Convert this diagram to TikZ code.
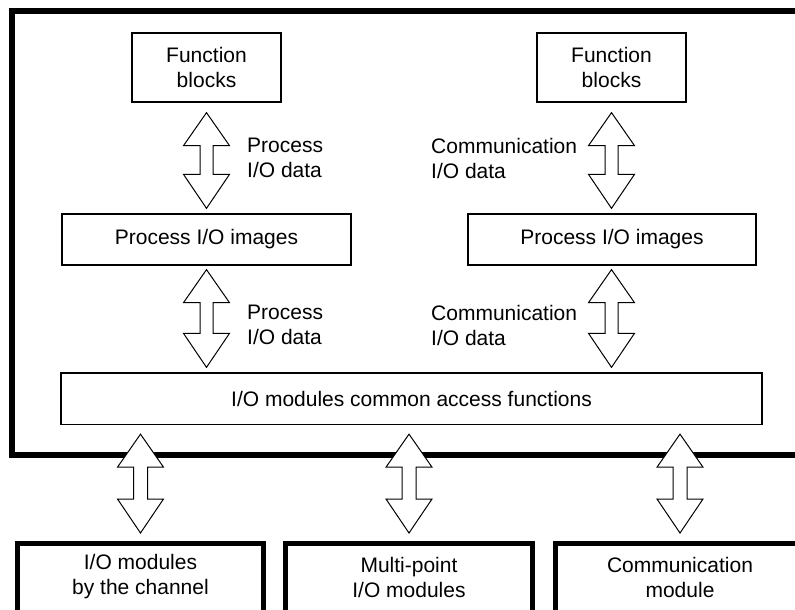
\documentclass[tikz,border=0pt]{standalone}
\usepackage{fontspec}
\setmainfont{Liberation Sans}
\usetikzlibrary{calc}
\tikzset{
  fnt/.style={font=\fontsize{21}{25}\selectfont},
  box/.style={draw=black, line width=1.3pt, rectangle, inner sep=0pt, align=center, fnt},
  bigbox/.style={draw=black, line width=5pt, rectangle, inner sep=0pt},
  lbl/.style={anchor=west, align=left, inner sep=0pt, fnt},
  txt/.style={align=center, inner sep=0pt, fnt},
  barrow/.style={draw=black, fill=white, line width=1pt, line join=miter},
}
\newcommand\blockarrow[3]{%
  \draw[barrow] let \p1=(#1), \p2=(#2) in
    (\x1,\y1) -- (\x1+23pt,\y1-33pt) -- (\x1+#3,\y1-33pt) -- (\x1+#3,\y2+34pt)
    -- (\x1+23pt,\y2+34pt) -- (\x1,\y2) -- (\x1-23pt,\y2+34pt) -- (\x1-#3,\y2+34pt)
    -- (\x1-#3,\y1-33pt) -- (\x1-23pt,\y1-33pt) -- cycle;}
\begin{document}
\begin{tikzpicture}[x=1pt,y=-1pt]
\useasboundingbox (0,0) rectangle (795,610);
\clip (0,0) rectangle (795,610);
\fill[white] (0,0) rectangle (795,610);
% outer frame
\draw[line width=6pt] (11.5,11.5) rectangle (830,455);
% boxes
\node[box, minimum width=149pt, minimum height=69pt] (fb1) at (206.5,67.5) {Function\\blocks};
\node[box, minimum width=149pt, minimum height=69pt] (fb2) at (611.5,67.5) {Function\\blocks};
\node[box, minimum width=289pt, minimum height=51pt] (pi1) at (206.5,239.5) {Process I/O images};
\node[box, minimum width=288pt, minimum height=51pt] (pi2) at (612,239.5) {Process I/O images};
\node[box, minimum width=701pt, minimum height=51.5pt] (common) at (411.5,398.75) {I/O modules common access functions};
% bottom boxes
\node[bigbox, minimum width=246pt, minimum height=120pt, anchor=north] (bx1) at (140.5,540.5) {};
\node[bigbox, minimum width=247pt, minimum height=120pt, anchor=north] (bx2) at (409,540.5) {};
\node[bigbox, minimum width=249pt, minimum height=120pt, anchor=north] (bx3) at (680,540.5) {};
\node[txt] (t1) at (140.5,577) {I/O modules\\by the channel};
\node[txt] (t2) at (409,577) {Multi-point\\I/O modules};
\node[txt] (t3) at (680,577) {Communication\\module};
% labels
\node[lbl] (l1) at (247,158) {Process\\I/O data};
\node[lbl] (l2) at (247,325) {Process\\I/O data};
\node[lbl] (l3) at (431,158) {Communication\\I/O data};
\node[lbl] (l4) at (431,325) {Communication\\I/O data};
% arrows
\blockarrow{$(fb1.south)+(0,10)$}{$(pi1.north)+(0,-5)$}{6.5pt}
\blockarrow{$(fb2.south)+(0,10)$}{$(pi2.north -| fb2.south)+(0,-5)$}{6.5pt}
\blockarrow{$(pi1.south)+(0,4)$}{$(common.north -| pi1.south)+(0,-5)$}{6.5pt}
\blockarrow{$(pi2.south -| fb2.south)+(0,4)$}{$(common.north -| fb2.south)+(0,-5)$}{6.5pt}
\blockarrow{$(common.south -| bx1.north)+(0,9)$}{$(bx1.north)+(0,-7.5)$}{7pt}
\blockarrow{$(common.south -| bx2.north)+(0,9)$}{$(bx2.north)+(0,-7.5)$}{7pt}
\blockarrow{$(common.south -| bx3.north)+(0,9)$}{$(bx3.north)+(0,-7.5)$}{7pt}
\end{tikzpicture}
\end{document}
